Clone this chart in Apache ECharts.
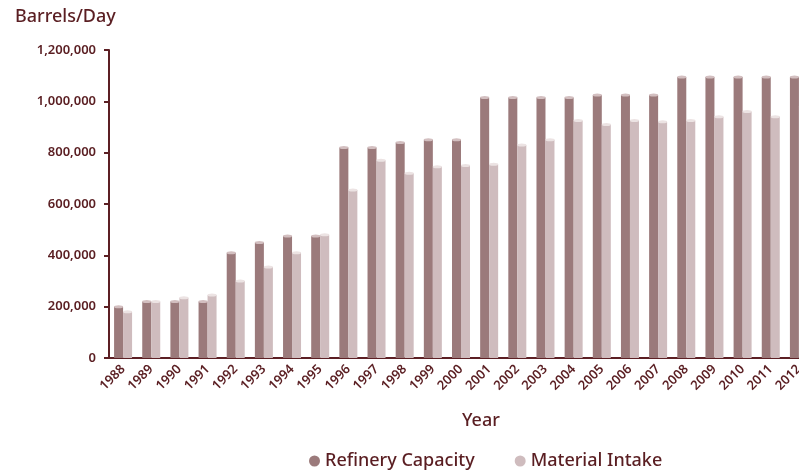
<!DOCTYPE html>
<html>
<head>
<meta charset="utf-8">
<script src="https://cdn.jsdelivr.net/npm/echarts@6/dist/echarts.min.js"></script>
<style>
    html, body { margin: 0; padding: 0; background: #fff; }
    #chart { width: 799px; height: 470px; }
</style>
</head>
<body>
<div id="chart"></div>
<script>
const years = ["1988", "1989", "1990", "1991", "1992", "1993", "1994", "1995", "1996", "1997",
    "1998", "1999", "2000", "2001", "2002", "2003", "2004", "2005", "2006", "2007",
    "2008", "2009", "2010", "2011", "2012"];

// barrels per day
const refineryCapacity = [200000, 220000, 220000, 220000, 410000, 450000, 475000, 475000, 820000, 820000,
    840000, 850000, 850000, 1015000, 1015000, 1015000, 1015000, 1025000, 1025000, 1025000,
    1095000, 1095000, 1095000, 1095000, 1095000];
const materialIntake = [180000, 220000, 235000, 245000, 300000, 355000, 410000, 480000, 655000, 770000,
    720000, 745000, 750000, 755000, 830000, 850000, 925000, 910000, 925000, 920000,
    925000, 940000, 960000, 940000, 980000];

const yTicks = [0, 200000, 400000, 600000, 800000, 1000000, 1200000];

const textColor = "#5a1e22";
const axisColor = "#5c1f24";
const darkBar = "#9b7a7b";
const lightBar = "#cfbcbe";
const font = "Noto Sans";

const chart = echarts.init(document.getElementById("chart"));

// small lighter ellipse on top of each bar (the "cylinder" cap)
const cap = (name, data, offsetX, color) => ({
    name: name + " cap",
    type: "pictorialBar",
    symbol: "circle",
    symbolSize: [9, 3],
    symbolPosition: "end",
    symbolOffset: [offsetX, "-50%"],
    itemStyle: { color },
    z: 3,
    silent: true,
    data,
});

chart.setOption({
    animation: false,
    textStyle: { fontFamily: font },
    title: [
        {
            text: "Barrels/Day",
            left: 10,
            top: 3,
            textStyle: { color: textColor, fontSize: 18, fontWeight: 500, fontFamily: font },
        },
        {
            text: "Year",
            left: 457,
            top: 407,
            textStyle: { color: textColor, fontSize: 18, fontWeight: 500, fontFamily: font },
        },
    ],
    legend: {
        data: ["Refinery Capacity", "Material Intake"],
        left: 304,
        top: 447,
        icon: "circle",
        itemWidth: 11,
        itemHeight: 11,
        itemGap: 40,
        textStyle: { color: textColor, fontSize: 18, fontWeight: 500, fontFamily: font },
    },
    grid: {
        left: 109,
        top: 50,
        width: 704,
        height: 308,
        outerBoundsMode: "none",
        containLabel: false,
    },
    xAxis: {
        type: "category",
        data: years,
        axisLine: { lineStyle: { color: axisColor, width: 2 } },
        axisTick: { lineStyle: { color: axisColor, width: 2 }, length: 5 },
        axisLabel: {
            rotate: 45,
            color: textColor,
            fontSize: 13,
            fontWeight: 600,
            margin: 9,
            interval: 0,
        },
    },
    yAxis: {
        type: "value",
        min: yTicks[0],
        max: yTicks[yTicks.length - 1],
        interval: 200000,
        splitLine: { show: false },
        axisLine: { show: true, lineStyle: { color: axisColor, width: 2 } },
        axisTick: { show: true, lineStyle: { color: axisColor, width: 2 }, length: 5 },
        axisLabel: {
            color: textColor,
            fontSize: 13,
            fontWeight: 600,
            margin: 13,
            formatter: (v) => v.toLocaleString("en-US"),
        },
    },
    series: [
        {
            name: "Refinery Capacity",
            type: "bar",
            barWidth: 9,
            barGap: "0%",
            itemStyle: { color: darkBar },
            data: refineryCapacity,
        },
        {
            name: "Material Intake",
            type: "bar",
            barWidth: 9,
            barGap: "0%",
            itemStyle: { color: lightBar },
            data: materialIntake,
        },
        cap("Refinery Capacity", refineryCapacity, "-50%", "#d3bfc0"),
        cap("Material Intake", materialIntake, "50%", "#ece3e3"),
    ],
});
</script>
</body>
</html>
